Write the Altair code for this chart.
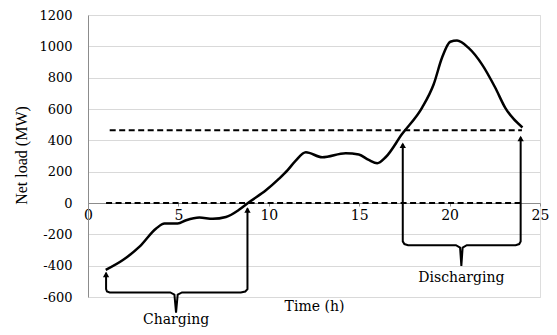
import altair as alt
import pandas as pd

# Net load curve
hours = [0.98, 1.93, 2.85, 3.77, 4.23, 4.96, 5.43, 6.16, 6.9, 7.63, 8.37, 8.92, 9.84,
         10.57, 11.03, 11.49, 12.05, 12.96, 14.25, 14.98, 15.53, 16.0, 16.46, 17.37,
         18.48, 19.12, 19.58, 20.04, 20.41, 21.05, 21.79, 22.52, 23.07, 24.03]
load = [-427, -364, -279, -163, -131, -131, -110, -93, -101, -89, -42, 6, 81,
        155, 208, 271, 324, 292, 318, 309, 275, 254, 292, 440,
        609, 758, 927, 1029, 1037, 990, 885, 737, 609, 482]

# Dashed reference lines
ref_id = ["upper", "upper", "zero", "zero"]
ref_h = [1.2, 24.0, 1.0, 24.0]
ref_v = [465, 465, 0, 0]

# Brackets
br_id = ["c"] * 14 + ["d"] * 13
br_h = [1.0, 1.0, 1.05, 1.2, 4.55, 4.78, 4.87, 4.96, 5.2, 8.45, 8.7, 8.82, 8.82, 8.82,
        17.41, 17.41, 17.5, 17.7, 20.35, 20.58, 20.65, 20.72, 20.95, 23.65, 23.85, 23.93, 23.93]
br_v = [-445, -550, -565, -571, -571, -585, -700, -585, -571, -571, -565, -550, -300, -35,
        375, -245, -262, -269, -269, -285, -402, -285, -269, -269, -262, -245, 418]

# Arrow heads
arr_h = [1.0, 8.82, 17.41, 23.93]
arr_v = [-457, -44, 368, 411]

# Labels
lab_text = ["Charging", "Discharging"]
lab_h = [4.87, 20.65]
lab_v = [-745, -476]

xs = alt.Scale(domain=[0, 25], nice=False)
ys = alt.Scale(domain=[-600, 1200], nice=False)

x_axis = alt.Axis(
    title="Time (h)", values=[0, 5, 10, 15, 20, 25], grid=False, offset=-94,
    domainColor="#8c8c8c", tickColor="#8c8c8c", tickSize=3, labelPadding=2,
    labelFlush=False, labelFont="DejaVu Serif", labelFontSize=14, labelColor="black",
    labelExpr="datum.value + ''",
    titleFont="DejaVu Serif", titleFontSize=14, titleFontWeight="normal", titleColor="black",
    titleX=226, titleY=103, titleBaseline="middle")
y_axis = alt.Axis(
    title="Net load (MW)", values=list(range(-600, 1201, 200)), grid=True,
    gridColor="#d9d9d9", domainColor="#8c8c8c", ticks=False, tickSize=0, labelPadding=16,
    labelFont="DejaVu Serif", labelFontSize=13, labelColor="black",
    labelExpr="datum.value + ''",
    titleFont="Liberation Serif", titleFontSize=16, titleFontWeight="normal",
    titleColor="black", titleX=-67, titleY=140, titleBaseline="middle", titleAlign="center")

X = alt.X("h:Q", scale=xs, axis=x_axis)
Y = alt.Y("v:Q", scale=ys, axis=y_axis)

curve_df = pd.DataFrame({"h": hours, "v": load})
ref_df = pd.DataFrame({"id": ref_id, "h": ref_h, "v": ref_v})
br_df = pd.DataFrame({"id": br_id, "h": br_h, "v": br_v, "o": list(range(len(br_h)))})
arr_df = pd.DataFrame({"h": arr_h, "v": arr_v})
lab_df = pd.DataFrame({"t": lab_text, "h": lab_h, "v": lab_v})

curve = alt.Chart(curve_df).mark_line(color="black", strokeWidth=2.5, interpolate="monotone").encode(
    x=X, y=Y)

refs = alt.Chart(ref_df).mark_line(color="black", strokeWidth=2, strokeDash=[6, 3.5]).encode(
    x=X, y=Y, detail="id:N")

brackets = alt.Chart(br_df).mark_line(color="black", strokeWidth=2, clip=False).encode(
    x=X, y=Y, detail="id:N", order="o:Q")

arrows = alt.Chart(arr_df).mark_point(shape="triangle-up", filled=True, color="black",
                                      size=40, opacity=1).encode(x=X, y=Y)

labels = alt.Chart(lab_df).mark_text(font="DejaVu Serif", fontSize=14, color="black",
                                     baseline="middle", align="center").encode(
    x=X, y=Y, text="t:N")

chart = alt.layer(refs, curve, brackets, arrows, labels).properties(
    width=452, height=282,
    autosize=alt.AutoSizeParams(type="none"),
    padding={"left": 80, "top": 7, "right": 9, "bottom": 30},
).configure_view(stroke=None).configure(background="white")

chart.save("out.html", embed_options={"renderer": "svg", "actions": False})
